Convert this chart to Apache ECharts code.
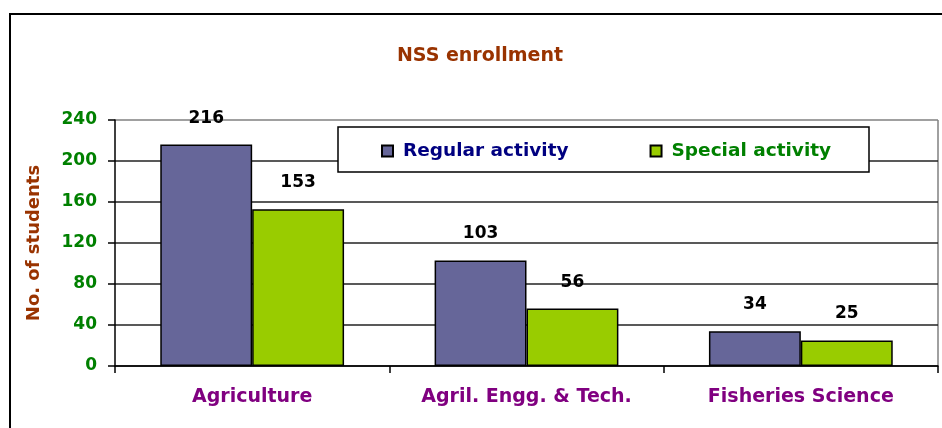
<!DOCTYPE html>
<html>
<head>
<meta charset="utf-8">
<script src="https://cdn.jsdelivr.net/npm/echarts@6/dist/echarts.min.js"></script>
<style>
html,body{margin:0;padding:0;background:#fff;}
#chart{width:942px;height:428px;}
</style>
</head>
<body>
<div id="chart"></div>
<script>
var categories = ['Agriculture', 'Agril. Engg. & Tech.', 'Fisheries Science'];
var regularActivity = [216, 103, 34];
var specialActivity = [153, 56, 25];
var seriesNames = ['Regular activity', 'Special activity'];
var titleText = 'NSS enrollment';
var yAxisTitle = 'No. of students';

var FONT = '"DejaVu Sans", sans-serif';
var chart = echarts.init(document.getElementById('chart'));
var labelCfg = {
  show: true, position: 'top', distance: 18,
  color: '#000', fontWeight: 'bold', fontSize: 17, fontFamily: FONT
};
chart.setOption({
  backgroundColor: '#fff',
  animation: false,
  title: {
    text: titleText, left: 480, top: 47, textAlign: 'center', padding: 0,
    textStyle: {color: '#993300', fontWeight: 'bold', fontSize: 19, fontFamily: FONT}
  },
  graphic: [
    {type: 'rect', z: 0, silent: true,
     shape: {x: 10, y: 14, width: 1000, height: 1000},
     style: {fill: 'none', stroke: '#000', lineWidth: 2}},
    {type: 'line', z: 0, silent: true,
     shape: {x1: 938, y1: 120, x2: 938, y2: 366},
     style: {stroke: '#808080', lineWidth: 1.5}},
    {type: 'rect', z: 50, silent: true,
     shape: {x: 338, y: 127, width: 531, height: 45},
     style: {fill: '#fff', stroke: '#000', lineWidth: 1.5}}
  ],
  legend: {
    z: 60, padding: 0,
    left: 381, top: 141,
    itemWidth: 11, itemHeight: 11, itemGap: 81,
    icon: 'rect',
    textStyle: {fontWeight: 'bold', fontSize: 18.5, fontFamily: FONT, lineHeight: 20, padding: [0, 0, 0, 5]},
    data: [
      {name: seriesNames[0], textStyle: {color: '#000080'}},
      {name: seriesNames[1], textStyle: {color: '#008000'}}
    ]
  },
  grid: {left: 115, right: 4, top: 120, bottom: 62, containLabel: false},
  xAxis: {
    type: 'category', data: categories,
    axisLine: {lineStyle: {color: '#000', width: 1.5}},
    axisTick: {show: true, alignWithLabel: false, length: 7, lineStyle: {color: '#000', width: 1.5}},
    axisLabel: {color: '#800080', fontWeight: 'bold', fontSize: 19, fontFamily: FONT, margin: 22}
  },
  yAxis: {
    type: 'value', min: 0, max: 240, interval: 40,
    name: yAxisTitle, nameLocation: 'middle', nameRotate: 90, nameGap: 72,
    nameTextStyle: {color: '#993300', fontWeight: 'bold', fontSize: 18, fontFamily: FONT},
    axisLine: {show: true, lineStyle: {color: '#000', width: 1.5}},
    axisTick: {show: true, inside: false, length: 7, lineStyle: {color: '#000', width: 1.5}},
    axisLabel: {color: '#008000', fontWeight: 'bold', fontSize: 17, fontFamily: FONT, margin: 18},
    splitLine: {show: true, lineStyle: {color: ['#222','#222','#222','#222','#222','#222','#808080'], width: 1.5}}
  },
  series: [
    {name: seriesNames[0], type: 'bar', data: regularActivity,
     barGap: '0%', barCategoryGap: '33%',
     itemStyle: {color: '#666699', borderColor: '#000', borderWidth: 1.5},
     label: labelCfg},
    {name: seriesNames[1], type: 'bar', data: specialActivity,
     barGap: '0%', barCategoryGap: '33%',
     itemStyle: {color: '#99CC00', borderColor: '#000', borderWidth: 1.5},
     label: labelCfg}
  ]
});
</script>
</body>
</html>
